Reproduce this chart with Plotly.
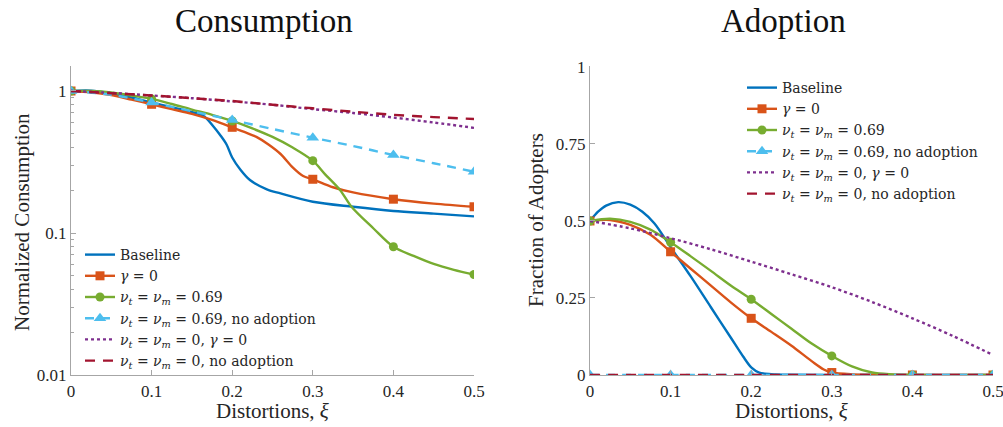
import plotly.graph_objects as go

# ---------------- data: Consumption (left, log scale) ----------------
xi_c_base = [0, 0.025, 0.05, 0.075, 0.1, 0.125, 0.15, 0.165, 0.177, 0.185, 0.193, 0.2, 0.21, 0.222, 0.243, 0.26, 0.3, 0.35, 0.4, 0.45, 0.5]
c_base = [1.0, 1.005, 0.96, 0.90, 0.83, 0.77, 0.71, 0.665, 0.56, 0.49, 0.42, 0.34, 0.28, 0.236, 0.203, 0.19, 0.166, 0.153, 0.143, 0.137, 0.131]

xi_c_gamma = [0, 0.025, 0.05, 0.075, 0.1, 0.125, 0.15, 0.175, 0.2, 0.215, 0.23, 0.245, 0.26, 0.275, 0.288, 0.3, 0.325, 0.35, 0.4, 0.45, 0.5]
c_gamma = [1.0, 0.98, 0.935, 0.87, 0.806, 0.745, 0.69, 0.625, 0.555, 0.515, 0.475, 0.42, 0.36, 0.29, 0.252, 0.239, 0.21, 0.193, 0.173, 0.161, 0.153]

xi_c_nu = [0, 0.025, 0.05, 0.075, 0.1, 0.125, 0.15, 0.175, 0.2, 0.225, 0.25, 0.275, 0.3, 0.315, 0.334, 0.348, 0.375, 0.4, 0.425, 0.45, 0.475, 0.5]
c_nu = [1.0, 1.0, 0.975, 0.93, 0.88, 0.81, 0.74, 0.68, 0.615, 0.545, 0.475, 0.40, 0.323, 0.26, 0.20, 0.153, 0.108, 0.080, 0.069, 0.0605, 0.055, 0.051]

xi_c_nu_noad = [0, 0.05, 0.1, 0.15, 0.2, 0.25, 0.3, 0.35, 0.4, 0.45, 0.5]
c_nu_noad = [1.0, 0.94, 0.83, 0.72, 0.625, 0.54, 0.469, 0.41, 0.354, 0.31, 0.27]

xi_c_zero_gamma = [0, 0.05, 0.1, 0.15, 0.2, 0.25, 0.3, 0.35, 0.4, 0.45, 0.5]
c_zero_gamma = [1.0, 0.97, 0.93, 0.89, 0.845, 0.80, 0.745, 0.70, 0.65, 0.60, 0.55]

xi_c_zero_noad = [0, 0.05, 0.1, 0.15, 0.2, 0.25, 0.3, 0.35, 0.4, 0.45, 0.5]
c_zero_noad = [1.0, 0.965, 0.93, 0.89, 0.85, 0.80, 0.755, 0.715, 0.68, 0.655, 0.635]

# ---------------- data: Adoption (right) ----------------
xi_a_base = [0, 0.01, 0.02, 0.035, 0.05, 0.065, 0.08, 0.1, 0.125, 0.15, 0.175, 0.19, 0.2, 0.21, 0.225, 0.25, 0.3, 0.4, 0.5]
a_base = [0.5, 0.53, 0.55, 0.561, 0.553, 0.53, 0.492, 0.415, 0.32, 0.22, 0.12, 0.06, 0.025, 0.008, 0.003, 0.001, 0.0, 0.0, 0.0]

xi_a_gamma = [0, 0.025, 0.05, 0.075, 0.1, 0.125, 0.15, 0.175, 0.2, 0.225, 0.25, 0.275, 0.29, 0.3, 0.325, 0.35, 0.4, 0.5]
a_gamma = [0.5, 0.503, 0.487, 0.455, 0.40, 0.345, 0.29, 0.235, 0.184, 0.14, 0.095, 0.045, 0.018, 0.008, 0.002, 0.001, 0.0, 0.0]

xi_a_nu = [0, 0.025, 0.05, 0.075, 0.1, 0.125, 0.15, 0.175, 0.2, 0.225, 0.25, 0.275, 0.3, 0.325, 0.35, 0.375, 0.4, 0.5]
a_nu = [0.5, 0.507, 0.497, 0.472, 0.431, 0.385, 0.338, 0.29, 0.246, 0.198, 0.15, 0.102, 0.062, 0.028, 0.008, 0.002, 0.0, 0.0]

xi_a_nu_noad = [0, 0.1, 0.2, 0.3, 0.4, 0.5]
a_nu_noad = [0, 0, 0, 0, 0, 0]

xi_a_zero_gamma = [0, 0.05, 0.1, 0.15, 0.2, 0.25, 0.3, 0.35, 0.4, 0.45, 0.5]
a_zero_gamma = [0.5, 0.476, 0.444, 0.408, 0.368, 0.327, 0.285, 0.237, 0.184, 0.127, 0.065]

xi_a_zero_noad = [0, 0.1, 0.2, 0.3, 0.4, 0.5]
a_zero_noad = [0, 0, 0, 0, 0, 0]

x_ticks = [0, 0.1, 0.2, 0.3, 0.4, 0.5]
x_ticktext = ["0", "0.1", "0.2", "0.3", "0.4", "0.5"]
c_ticks = [0.01, 0.1, 1]
c_ticktext = ["0.01", "0.1", "1"]
a_ticks = [0, 0.25, 0.5, 0.75, 1]
a_ticktext = ["0", "0.25", "0.5", "0.75", "1"]

names = [
    "Baseline",
    "<i>γ</i> = 0",
    "<i>ν<sub>t</sub></i> = <i>ν<sub>m</sub></i> = 0.69",
    "<i>ν<sub>t</sub></i> = <i>ν<sub>m</sub></i> = 0.69, no adoption",
    "<i>ν<sub>t</sub></i> = <i>ν<sub>m</sub></i> = 0, <i>γ</i> = 0",
    "<i>ν<sub>t</sub></i> = <i>ν<sub>m</sub></i> = 0, no adoption",
]

# ---------------- styles ----------------
colors = ["#0072BD", "#D95319", "#77AC30", "#4DBEEE", "#7E2F8E", "#A2142F"]
dashes = ["solid", "solid", "solid", "9px,7px", "dot", "10px,8px"]
symbols = [None, "square", "circle", "triangle-up", None, None]
msizes = [0, 9, 9, 11, 0, 0]
LW = 2.4
FONT = "Liberation Serif"
LFONT = "DejaVu Serif"

# body margin is removed by a post script, so the paper fills the window
W, H = 1003, 427


def px(X):
    return X / W


def py(Y):
    return 1 - Y / H


def grid_pts(xs, ys):
    gx, gy = [], []
    for x, y in zip(xs, ys):
        if abs(x * 10 - round(x * 10)) < 1e-6:
            gx.append(x)
            gy.append(y)
    return gx, gy


fig = go.Figure()

left = [(xi_c_base, c_base), (xi_c_gamma, c_gamma), (xi_c_nu, c_nu),
        (xi_c_nu_noad, c_nu_noad), (xi_c_zero_gamma, c_zero_gamma), (xi_c_zero_noad, c_zero_noad)]
right = [(xi_a_base, a_base), (xi_a_gamma, a_gamma), (xi_a_nu, a_nu),
         (xi_a_nu_noad, a_nu_noad), (xi_a_zero_gamma, a_zero_gamma), (xi_a_zero_noad, a_zero_noad)]

for panel, (xa, ya, leg) in zip([left, right], [("x", "y", "legend"), ("x2", "y2", "legend2")]):
    for i, (xs, ys) in enumerate(panel):
        fig.add_trace(go.Scatter(
            x=xs, y=ys, xaxis=xa, yaxis=ya, mode="lines",
            line=dict(color=colors[i], width=LW, dash=dashes[i], shape="spline", smoothing=0.9),
            showlegend=False, hoverinfo="skip"))
        if symbols[i]:
            gx, gy = grid_pts(xs, ys)
            fig.add_trace(go.Scatter(
                x=gx, y=gy, xaxis=xa, yaxis=ya, mode="markers",
                marker=dict(symbol=symbols[i], size=msizes[i], color=colors[i],
                            line=dict(width=0)),
                showlegend=False, hoverinfo="skip"))
        # legend entry
        fig.add_trace(go.Scatter(
            x=[None], y=[None], xaxis=xa, yaxis=ya,
            mode="lines+markers" if symbols[i] else "lines",
            name=names[i], legend=leg,
            line=dict(color=colors[i], width=LW, dash=dashes[i]),
            marker=dict(symbol=symbols[i] or "circle", size=msizes[i] or 1, color=colors[i]),
            showlegend=True))

ydom = [py(375), py(66)]
axis_common = dict(showline=True, linecolor="#a6a6a6", linewidth=1.3, ticks="inside",
                   ticklen=5, tickcolor="#a6a6a6", tickwidth=1, showgrid=False, zeroline=False,
                   automargin=False, ticklabeloverflow="allow",
                   tickfont=dict(family=FONT, size=17, color="#262626"), mirror=False)

fig.update_layout(
    template="plotly_white",
    width=W, height=H, margin=dict(l=0, r=0, t=0, b=0, autoexpand=False),
    paper_bgcolor="white", plot_bgcolor="white",
    font=dict(family=FONT, color="#262626"),
    hovermode=False,
    xaxis=dict(domain=[px(71), px(474)], range=[0, 0.5], tickvals=x_ticks,
               ticktext=x_ticktext, anchor="y", **axis_common),
    yaxis=dict(domain=ydom, type="log", range=[-2, 0.176], tickvals=c_ticks,
               ticktext=c_ticktext, anchor="x",
               minor=dict(dtick="D1", ticks="inside", ticklen=3, tickcolor="#a6a6a6", showgrid=False),
               **axis_common),
    xaxis2=dict(domain=[px(590), px(993)], range=[0, 0.5], tickvals=x_ticks,
                ticktext=x_ticktext, anchor="y2", **axis_common),
    yaxis2=dict(domain=ydom, range=[0, 1.003], tickvals=a_ticks,
                ticktext=a_ticktext, anchor="x2", **axis_common),
    legend=dict(x=px(80), y=py(239), xanchor="left", yanchor="top",
                bgcolor="rgba(0,0,0,0)", font=dict(family=LFONT, size=14, color="#262626"),
                tracegroupgap=0, itemwidth=30),
    legend2=dict(x=px(742), y=py(72), xanchor="left", yanchor="top",
                 bgcolor="rgba(0,0,0,0)", font=dict(family=LFONT, size=14, color="#262626"),
                 tracegroupgap=0, itemwidth=30),
    annotations=[
        dict(text="Consumption", x=px(264), y=py(21), xref="paper", yref="paper",
             xanchor="center", yanchor="middle",
             showarrow=False, font=dict(family=FONT, size=33, color="#111")),
        dict(text="Adoption", x=px(783), y=py(21), xref="paper", yref="paper",
             xanchor="center", yanchor="middle",
             showarrow=False, font=dict(family=FONT, size=33, color="#111")),
        dict(text="Distortions, <i>ξ</i>", x=px(272), y=py(411), xref="paper", yref="paper",
             xanchor="center", yanchor="middle",
             showarrow=False, font=dict(family=FONT, size=21, color="#262626")),
        dict(text="Distortions, <i>ξ</i>", x=px(791), y=py(411), xref="paper", yref="paper",
             xanchor="center", yanchor="middle",
             showarrow=False, font=dict(family=FONT, size=21, color="#262626")),
        dict(text="Normalized Consumption", x=px(22), y=py(222), xref="paper", yref="paper",
             xanchor="center", yanchor="middle",
             showarrow=False, textangle=-90, font=dict(family=FONT, size=21, color="#262626")),
        dict(text="Fraction of Adopters", x=px(536), y=py(220), xref="paper", yref="paper",
             xanchor="center", yanchor="middle",
             showarrow=False, textangle=-90, font=dict(family=FONT, size=21, color="#262626")),
    ],
)

fig.write_html("out.html", config={"displayModeBar": False},
               post_script="document.body.style.margin='0';document.body.style.overflow='hidden';")
